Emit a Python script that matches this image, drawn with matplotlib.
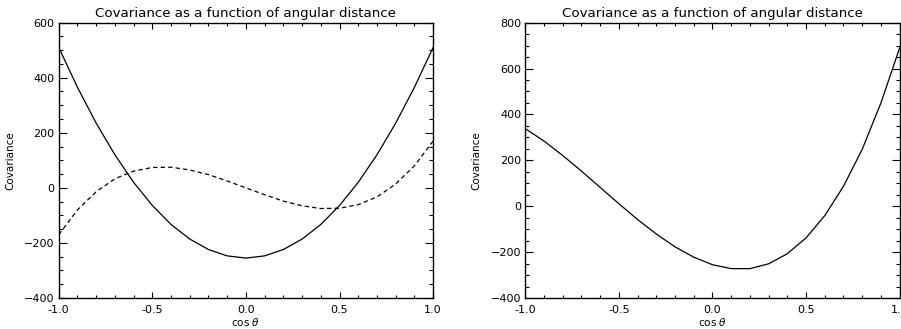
import numpy as np
import matplotlib
matplotlib.use('Agg')
import matplotlib.pyplot as plt
from matplotlib.ticker import MultipleLocator

# cos(theta) grid, read at 0.1 steps
cos_theta = [-1.0, -0.9, -0.8, -0.7, -0.6, -0.5, -0.4, -0.3, -0.2, -0.1, 0.0,
             0.1, 0.2, 0.3, 0.4, 0.5, 0.6, 0.7, 0.8, 0.9, 1.0]

# left panel: solid and dashed curves
cov_solid = [510, 365, 235, 120, 20, -64, -133, -186, -224, -247, -255,
             -247, -224, -186, -133, -64, 20, 120, 235, 365, 510]
cov_dashed = [-170, -80, -14, 33, 61, 74, 75, 65, 48, 25, 0,
              -25, -48, -65, -75, -74, -61, -33, 14, 80, 170]

# right panel: single curve
cov_right = [338, 284, 221, 153, 82, 11, -58, -121, -177, -222, -255,
             -272, -272, -251, -207, -138, -41, 87, 248, 450, 690]

title = 'Covariance as a function of angular distance'

plt.rcParams['font.family'] = 'DejaVu Sans'
fig = plt.figure(figsize=(9.01, 3.29), dpi=100)

ax1 = fig.add_axes([0.0652, 0.0942, 0.4155, 0.837])
ax2 = fig.add_axes([0.5830, 0.0942, 0.4155, 0.837])

ax1.plot(cos_theta, cov_solid, color='black', linewidth=0.9)
ax1.plot(cos_theta, cov_dashed, color='black', linewidth=0.9, dashes=(3.5, 2.5))
ax1.set_ylim(-400, 600)
ax1.yaxis.set_major_locator(MultipleLocator(200))

ax2.plot(cos_theta, cov_right, color='black', linewidth=0.9)
ax2.set_ylim(-400, 800)
ax2.yaxis.set_major_locator(MultipleLocator(200))

for ax in (ax1, ax2):
    ax.set_xlim(-1, 1)
    ax.xaxis.set_major_locator(MultipleLocator(0.5))
    ax.xaxis.set_minor_locator(MultipleLocator(0.1))
    ax.yaxis.set_minor_locator(MultipleLocator(50))
    ax.xaxis.set_major_formatter(matplotlib.ticker.FormatStrFormatter('%.1f'))
    ax.tick_params(axis='both', which='both', direction='in', top=True, right=True,
                   labelsize=8, width=0.8)
    ax.tick_params(axis='x', which='major', length=4, pad=5)
    ax.tick_params(axis='x', which='minor', length=2.2)
    ax.tick_params(axis='y', which='major', length=5.5, pad=3)
    ax.tick_params(axis='y', which='minor', length=2.8)
    for s in ax.spines.values():
        s.set_linewidth(1.0)
    ax.set_title(title, fontsize=9.6, pad=4)
    ax.set_xlabel(r'cos $\theta$', fontsize=7.5, labelpad=1)
    ax.set_ylabel('Covariance', fontsize=7.5)
    ax.yaxis.set_label_coords(-0.117, 0.5)

fig.savefig('out.png', dpi=100)
